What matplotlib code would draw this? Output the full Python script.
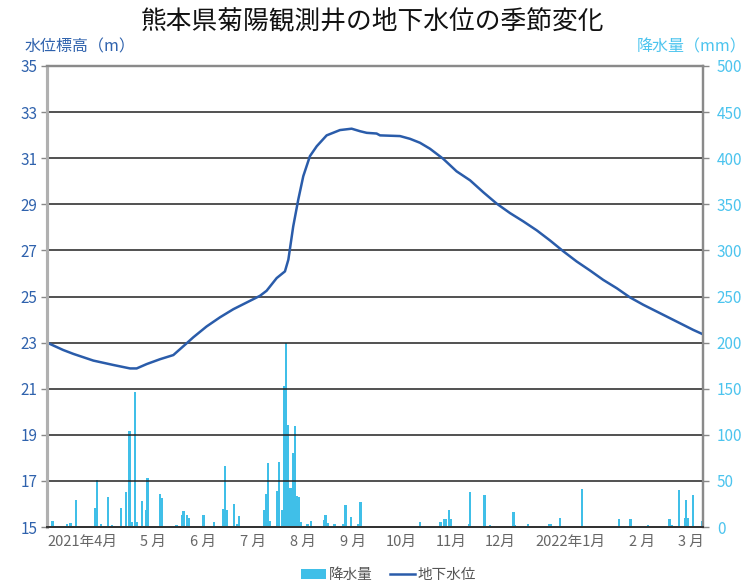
import numpy as np
import matplotlib
matplotlib.use("Agg")
import matplotlib.pyplot as plt
from matplotlib.patches import Patch
from matplotlib.lines import Line2D

plt.rcParams['font.family'] = ['Noto Sans CJK JP', 'DejaVu Sans']

# days counted from 2021-04-01
level_day = [0, 9, 14.7, 25.8, 36.9, 46.2, 49.9, 55.5, 62.9, 70.3, 77.7, 81.4, 88.8,
             96.3, 103.7, 111.1, 118.5, 122.2, 127.8, 132.4, 134.3, 137.0, 139.8,
             142.6, 146.3, 150.1, 155.6, 163.0, 169.5, 174.2, 177.9, 183.4, 185.3,
             196.4, 202, 207.5, 213.1, 220.5, 227.9, 235.4, 242.8, 250.2, 257.6,
             265.0, 272.5, 279.9, 287.3, 294.7, 302.1, 309.5, 317.0, 324.4, 331.8,
             339.2, 346.6, 354.0, 359.6, 365]
level_m = [23.0, 22.68, 22.51, 22.22, 22.03, 21.88, 21.88, 22.07, 22.28, 22.46, 22.97,
           23.23, 23.70, 24.10, 24.45, 24.74, 25.03, 25.25, 25.80, 26.09, 26.6, 28.04,
           29.2, 30.22, 31.09, 31.52, 31.99, 32.22, 32.28, 32.17, 32.1, 32.07, 31.99,
           31.96, 31.84, 31.67, 31.41, 30.97, 30.43, 30.04, 29.52, 29.03, 28.62,
           28.26, 27.87, 27.43, 26.96, 26.52, 26.13, 25.72, 25.36, 24.96, 24.64,
           24.35, 24.06, 23.77, 23.55, 23.36]

rain_day = [3, 11, 13, 16, 21, 27, 28, 30, 34, 36, 41, 44, 46, 47, 49, 50, 53, 55, 56,
            63, 64, 72, 75, 76, 78, 79, 87, 93, 98, 99, 100, 104, 106, 107,
            121, 122, 123, 124, 128, 129, 131, 132, 133, 134, 135.5, 136.5, 137, 138,
            139, 140, 141, 145, 147, 154, 155, 156, 160, 164, 165, 166, 169, 173, 174.5,
            207.5, 212.5, 219, 221, 222, 223.5, 224.7, 226.4, 234.7, 235.5, 243.5, 246.5,
            259.5, 260.5, 267.5, 272.5, 279.3, 280.4, 285.4, 297.5, 298.8, 318.4, 324.7,
            334.5, 346.3, 347.6, 351.6, 354.9, 355.6, 356.6, 359.6, 364.3]
rain_mm = [6, 3, 4, 29, 1, 21, 51, 3, 33, 2, 21, 38, 104, 5, 146, 5, 28, 19, 53,
           36, 32, 2, 13, 17, 13, 10, 13, 5, 20, 66, 19, 25, 3, 12,
           19, 36, 69, 6, 39, 71, 19, 153, 200, 111, 42, 24, 80, 110,
           34, 33, 5, 3, 7, 8, 13, 4, 3, 1.5, 3, 24, 11, 3, 27,
           5, 1, 5, 9, 9, 18, 9, 1.5, 3, 38, 35, 2,
           16, 2, 3, 1, 3, 3, 10, 41, 1.5, 9, 9,
           2, 9, 2, 40, 10, 29, 10, 35, 6]

month_labels = ['2021年4月', '5 月', '6 月', '7 月', '8 月', '9 月', '10月', '11月',
                '12月', '2022年1月', '2 月', '3 月']
label_pos = [20.0, 59.0, 86.8, 114.6, 142.4, 170.2, 197.0, 224.8, 252.0, 291.0,
             331.1, 358.3]

LINE_C = '#2a5caa'
BAR_C = '#40bfe8'
LEFT_C = '#2f62ad'
RIGHT_C = '#4cc4ee'

fig = plt.figure(figsize=(7.47, 5.85), dpi=100)
ax = fig.add_axes([0.0629, 0.0991, 0.8782, 0.7881])
ax_r = ax.twinx()

ax_r.bar(rain_day, rain_mm, width=1.3, color=BAR_C, linewidth=0)
ax.plot(level_day, level_m, color=LINE_C, lw=1.8)

ax.set_zorder(ax_r.get_zorder() + 1)
ax.patch.set_visible(False)

ax.set_xlim(0, 365)
ax.set_ylim(15, 35)
ax_r.set_ylim(0, 500)
ax.set_yticks(np.arange(15, 36, 2))
ax_r.set_yticks(np.arange(0, 501, 50))
ax.set_xticks(label_pos)
ax.set_xticklabels(month_labels)

for y in range(17, 35, 2):
    ax.axhline(y, color='#222222', lw=1.1, zorder=0)

ax.tick_params(axis='x', length=0, labelsize=10.5, labelcolor='#666666', pad=6)
ax.tick_params(axis='y', length=4, width=1, color='#888888', labelsize=11,
               labelcolor=LEFT_C, pad=3)
ax_r.tick_params(axis='y', length=4, width=1, color='#888888', labelsize=11,
                 labelcolor=RIGHT_C, pad=6)

for a in (ax, ax_r):
    a.spines['top'].set_color('#8a8a8a')
    a.spines['top'].set_linewidth(1.6)
    a.spines['right'].set_color('#8a8a8a')
    a.spines['right'].set_linewidth(1.6)
    a.spines['left'].set_color('#b0b0b0')
    a.spines['left'].set_linewidth(2.2)
    a.spines['bottom'].set_color('#333333')
    a.spines['bottom'].set_linewidth(1.4)

fig.text(0.499, 0.962, '熊本県菊陽観測井の地下水位の季節変化', ha='center', va='center',
         fontsize=18.5, color='#111111')
fig.text(0.033, 0.920, '水位標高（m）', ha='left', va='center', fontsize=11.5, color=LEFT_C)
fig.text(0.999, 0.920, '降水量（mm）', ha='right', va='center', fontsize=11.5, color=RIGHT_C)

handles = [Patch(facecolor=BAR_C, edgecolor='none', label='降水量'),
           Line2D([0], [0], color=LINE_C, lw=1.8, label='地下水位')]
fig.legend(handles=handles, loc='center', bbox_to_anchor=(0.52, 0.017), ncol=2,
           frameon=False, fontsize=10.5, labelcolor='#555555', handlelength=1.7,
           handletextpad=0.2, columnspacing=1.2)

fig.savefig('out.png', dpi=100)
